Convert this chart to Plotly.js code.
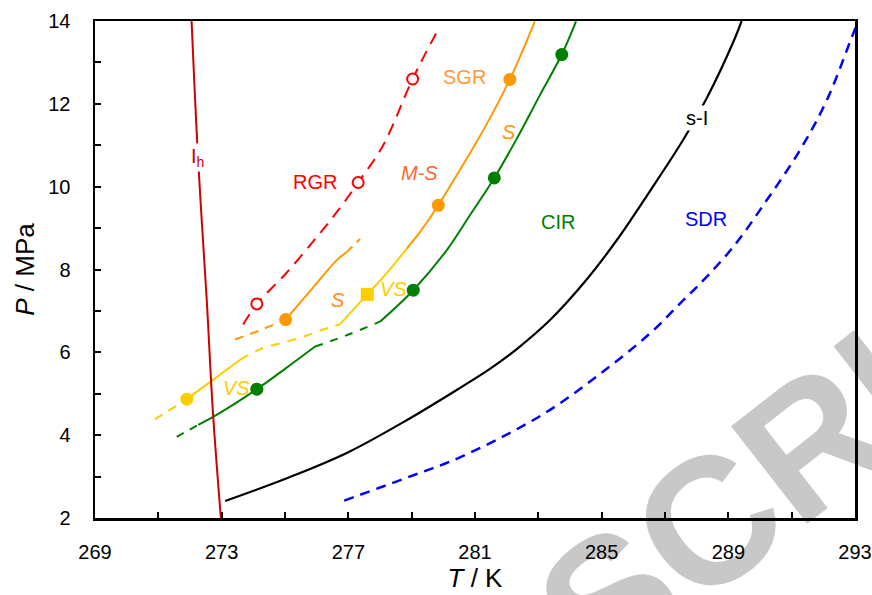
<!DOCTYPE html>
<html>
<head>
<meta charset="utf-8">
<script src="https://cdn.plot.ly/plotly-3.0.1.min.js"></script>
<style>
  html, body { margin: 0; padding: 0; background: #ffffff; }
  #wrap { position: relative; width: 872px; height: 595px; overflow: hidden; }
  #stamp {
    position: absolute; left: 732px; top: 504px;
    font-family: "Liberation Sans", Arial, sans-serif; font-weight: bold;
    font-size: 180px; line-height: 1; color: #c8c8c8; white-space: nowrap;
    transform: translate(-50%, -50%) rotate(-38deg); transform-origin: 50% 50%;
  }
  #chart { position: absolute; left: 0; top: 0; width: 872px; height: 595px; }
</style>
</head>
<body>
<div id="wrap">
  <div id="stamp">SCRI</div>
  <div id="chart"></div>
</div>
<script>
// Ice Ih melting line
const ihT = [272.05, 272.26, 272.53, 272.72, 272.98];
const ihP = [14.0, 10.6, 7.25, 4.6, 1.95];

// RGR boundary (red, dashed) and its open-circle points
const rgrT = [273.68, 274.11, 275.0, 276.0, 276.7, 277.31, 278.1, 279.03, 279.84];
const rgrP = [6.67, 7.17, 7.88, 8.78, 9.45, 10.10, 11.0, 12.60, 13.80];
const rgrPtT = [274.11, 277.31, 279.03];
const rgrPtP = [7.17, 10.10, 12.60];

// Short orange branch (S)
const sDashT = [273.42, 274.2, 275.02];
const sDashP = [6.31, 6.53, 6.79];
const sSolidT = [275.02, 275.89, 276.63, 276.95];
const sSolidP = [6.79, 7.57, 8.22, 8.42];
const sTipT = [276.95, 277.37];
const sTipP = [8.42, 8.74];
const sPtT = [275.02];
const sPtP = [6.79];

// VS branch (yellow) running into the SGR boundary (orange)
const vsDashLowT = [270.89, 271.90];
const vsDashLowP = [4.38, 4.87];
const vsSolidLowT = [271.90, 272.74, 273.58];
const vsSolidLowP = [4.87, 5.34, 5.82];
const vsDashMidT = [273.58, 274.21, 275.47, 276.10, 276.74];
const vsDashMidP = [5.82, 6.07, 6.35, 6.52, 6.68];
const vsSolidUpT = [276.74, 277.60, 278.2, 278.84];
const vsSolidUpP = [6.68, 7.40, 7.90, 8.50];
const vsCircleT = [271.90];
const vsCircleP = [4.87];
const vsSquareT = [277.60];
const vsSquareP = [7.40];
const sgrT = [278.84, 279.26, 279.84, 280.74, 281.37, 282.10, 282.53, 282.89];
const sgrP = [8.50, 8.90, 9.55, 10.68, 11.51, 12.59, 13.33, 13.99];
const sgrPtT = [279.84, 282.10];
const sgrPtP = [9.55, 12.59];

// CIR boundary (green)
const cirDashLowT = [271.58, 272.26];
const cirDashLowP = [3.96, 4.25];
const cirSolidLowT = [272.26, 272.84, 274.11, 275.0, 275.95];
const cirSolidLowP = [4.25, 4.49, 5.11, 5.60, 6.14];
const cirDashMidT = [275.95, 276.84, 278.0];
const cirDashMidP = [6.14, 6.38, 6.74];
const cirSolidUpT = [278.0, 279.05, 280.11, 280.84, 281.61, 282.32, 283.05, 283.74, 284.19];
const cirSolidUpP = [6.74, 7.50, 8.47, 9.31, 10.21, 11.16, 12.21, 13.19, 13.99];
const cirPtT = [274.11, 279.05, 281.61, 283.74];
const cirPtP = [5.11, 7.50, 10.21, 13.19];

// s-I equilibrium (black)
const slT = [273.11, 275.16, 276.95, 278.84, 280.42, 281.47, 282.32, 283.37, 284.42, 285.47, 286.53, 287.58, 288.32, 289.16, 289.42];
const slP = [2.41, 2.99, 3.57, 4.36, 5.09, 5.60, 6.08, 6.78, 7.66, 8.70, 9.90, 11.14, 12.14, 13.50, 14.0];

// SDR boundary (blue, dashed)
const sdrT = [276.87, 279.37, 280.21, 281.79, 283.37, 284.95, 286.53, 287.58, 288.11, 289.16, 290.21, 291.26, 292.11, 292.90, 293.05];
const sdrP = [2.42, 3.12, 3.36, 3.93, 4.61, 5.48, 6.46, 7.26, 7.66, 8.55, 9.67, 10.88, 12.09, 13.61, 13.90];

// Region and branch labels
const labelText = ['I<sub>h</sub>', 'RGR', 'SGR', '<i>M-S</i>', '<i>S</i>', '<i>S</i>', '<i>VS</i>', '<i>VS</i>', 'CIR', 'SDR', 's-I'];
const labelT = [272.24, 275.95, 280.68, 279.26, 282.08, 276.68, 278.42, 273.47, 283.63, 288.29, 288.0];
const labelP = [10.71, 10.12, 12.64, 10.33, 11.32, 7.26, 7.52, 5.13, 9.15, 9.23, 11.67];
const labelColor = ['#cc0000', '#ff0000', '#ff9933', '#ff6633', '#ff9900', '#ff8c1a', '#ffcc00', '#ffcc00', '#008000', '#0000ff', '#000000'];

const xTicks = [269, 273, 277, 281, 285, 289, 293];
const yTicks = [2, 4, 6, 8, 10, 12, 14];

const FONT = '"Liberation Sans", Arial, Helvetica, sans-serif';

function curve(x, y, color, dash, width) {
  return {
    x: x, y: y, type: 'scatter', mode: 'lines', hoverinfo: 'skip',
    line: { color: color, width: width || 2, dash: dash || 'solid', shape: 'spline', smoothing: 1 }
  };
}
function dots(x, y, color, symbol, size, lineColor) {
  return {
    x: x, y: y, type: 'scatter', mode: 'markers', hoverinfo: 'skip',
    marker: { color: color, symbol: symbol || 'circle', size: size || 13,
              line: { color: lineColor || color, width: lineColor ? 2 : 0 } }
  };
}

const traces = [
  curve(sdrT, sdrP, '#0000ff', '10px,7px', 2.5),
  curve(slT, slP, '#000000', 'solid', 2.2),
  curve(cirDashLowT, cirDashLowP, '#008000', '8px,7px', 2),
  curve(cirSolidLowT, cirSolidLowP, '#008000', 'solid', 2),
  curve(cirDashMidT, cirDashMidP, '#008000', '8px,8px', 2),
  curve(cirSolidUpT, cirSolidUpP, '#008000', 'solid', 2),
  curve(vsDashLowT, vsDashLowP, '#ffcc00', '9px,7px', 2),
  curve(vsSolidLowT, vsSolidLowP, '#ffcc00', 'solid', 2),
  curve(vsDashMidT, vsDashMidP, '#ffcc00', '9px,8px', 2),
  curve(vsSolidUpT, vsSolidUpP, '#ffcc00', 'solid', 2),
  curve(sgrT, sgrP, '#ff9900', 'solid', 2),
  curve(sDashT, sDashP, '#ff9900', '9px,7px', 2),
  curve(sSolidT, sSolidP, '#ff9900', 'solid', 2),
  curve(sTipT, sTipP, '#ff9900', '8px,6px', 2),
  curve(rgrT, rgrP, '#ff0000', '12px,8px', 2),
  curve(ihT, ihP, '#cc0000', 'solid', 2),
  dots(cirPtT, cirPtP, '#008000'),
  dots(vsCircleT, vsCircleP, '#ffcc00'),
  dots(vsSquareT, vsSquareP, '#ffcc00', 'square', 13),
  dots(sgrPtT, sgrPtP, '#ff9900'),
  dots(sPtT, sPtP, '#ff9900'),
  dots(rgrPtT, rgrPtP, '#ffffff', 'circle', 11, '#ff0000')
];

const annotations = labelText.map(function (t, i) {
  return {
    x: labelT[i], y: labelP[i], xref: 'x', yref: 'y', text: t, showarrow: false,
    font: { family: FONT, size: 20, color: labelColor[i] },
    bgcolor: (i === 0 || i === 10) ? '#ffffff' : 'rgba(0,0,0,0)', borderpad: 1
  };
});

const axisCommon = {
  showgrid: false, zeroline: false, showline: true, mirror: true,
  linecolor: '#000000', linewidth: 2.5, ticks: 'inside', ticklen: 6, tickwidth: 2,
  tickcolor: '#000000', tickfont: { family: FONT, size: 20, color: '#000000' }
};

const layout = {
  width: 872, height: 595,
  margin: { l: 95, r: 17, t: 21, b: 77 },
  paper_bgcolor: 'rgba(0,0,0,0)', plot_bgcolor: 'rgba(0,0,0,0)',
  showlegend: false,
  xaxis: Object.assign({}, axisCommon, {
    range: [269, 293], tickmode: 'array', tickvals: xTicks, ticktext: xTicks.map(String),
    ticklabelstandoff: 14,
    minor: { tickmode: 'linear', tick0: 269, dtick: 2, ticks: 'inside', ticklen: 6, tickwidth: 2, tickcolor: '#000000' },
    title: { text: '<i>T</i> / K', font: { family: FONT, size: 26, color: '#000000' }, standoff: 8 }
  }),
  yaxis: Object.assign({}, axisCommon, {
    range: [2, 14], tickmode: 'array', tickvals: yTicks, ticktext: yTicks.map(String),
    ticklabelstandoff: 18,
    minor: { tickmode: 'linear', tick0: 2, dtick: 1, ticks: 'inside', ticklen: 6, tickwidth: 2, tickcolor: '#000000' },
    title: { text: '<i>P</i> / MPa', font: { family: FONT, size: 26, color: '#000000' }, standoff: 6 }
  }),
  annotations: annotations
};

Plotly.newPlot('chart', traces, layout, { displayModeBar: false, staticPlot: true });
</script>
</body>
</html>
